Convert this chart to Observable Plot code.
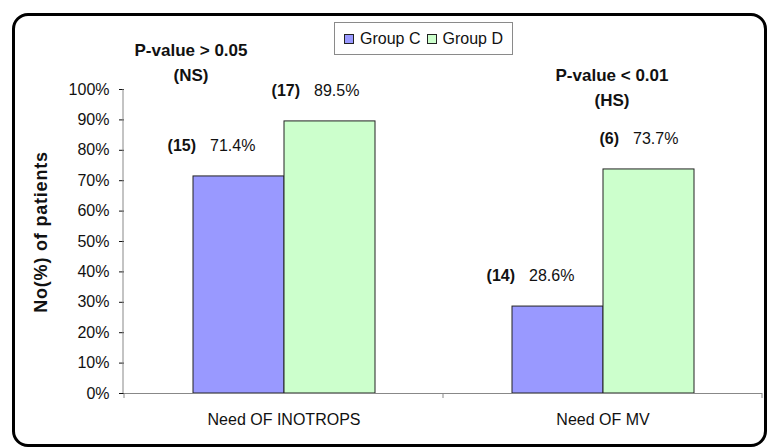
<!DOCTYPE html>
<html>
<head>
<meta charset="utf-8">
<script src="https://cdn.jsdelivr.net/npm/d3@7"></script>
<script src="https://cdn.jsdelivr.net/npm/@observablehq/plot@0.6"></script>
<style>
  html, body { margin: 0; padding: 0; background: #fff; }
  #wrap { position: relative; width: 767px; height: 448px; font-family: "Liberation Sans", Arial, sans-serif; }
  #border {
    position: absolute; left: 12px; top: 13px; width: 749px; height: 428px;
    border: 3px solid #000; border-radius: 16px; pointer-events: none;
  }
  #legend {
    position: absolute; left: 334px; top: 22px; width: 177px; height: 31px;
    border: 1px solid #8a8a8a; background: #fff;
    display: flex; align-items: center; justify-content: center; gap: 6px;
    font-size: 16px; color: #111;
  }
  #legend .item { display: flex; align-items: center; gap: 6px; }
  #legend .sw { width: 8px; height: 8px; border: 1px solid #222; }
  [aria-label="y-axis tick"] { stroke: #888; }
</style>
</head>
<body>
<div id="wrap">
  <div id="chart"></div>
  <div id="legend"></div>
  <div id="border"></div>
</div>
<script>
// Categories, groups and values
const categories = ["Need OF INOTROPS", "Need OF MV"];
const groups = ["Group C", "Group D"];
const groupC = [71.4, 28.6];
const groupD = [89.5, 73.7];
const countsC = [15, 14];
const countsD = [17, 6];
const pTexts = ["P-value > 0.05\n(NS)", "P-value < 0.01\n(HS)"];
const yTicks = [0, 10, 20, 30, 40, 50, 60, 70, 80, 90, 100];
const colors = ["#9999ff", "#ccffcc"];

const rows = [];
categories.forEach((c, i) => {
  rows.push({category: c, group: groups[0], value: groupC[i], count: countsC[i]});
  rows.push({category: c, group: groups[1], value: groupD[i], count: countsD[i]});
});
const pRows = categories.map((c, i) => ({category: c, text: pTexts[i]}));

const font = {fontFamily: "'Liberation Sans', Arial, sans-serif", fontSize: "16px", color: "#111", background: "transparent", overflow: "visible"};

// "(n)  xx.x%" label pair above the bars of one group
function valueLabels(group, dx) {
  const data = rows.filter(d => d.group === group);
  return [
    Plot.text(data, {fx: "category", x: "group", y: "value", text: d => `(${d.count})`,
      textAnchor: "end", dx: dx - 7, dy: -31, fontWeight: "bold", fontSize: 16, fill: "#111"}),
    Plot.text(data, {fx: "category", x: "group", y: "value", text: d => d.value.toFixed(1) + "%",
      textAnchor: "start", dx: dx + 7, dy: -31, fontSize: 16, fill: "#111"})
  ];
}

const plot = Plot.plot({
  width: 767,
  height: 448,
  marginLeft: 123,
  marginRight: 5,
  marginTop: 89,
  marginBottom: 55,
  style: font,
  fx: {domain: categories, paddingInner: 0, paddingOuter: 0, label: null},
  x: {domain: groups, paddingInner: 0, paddingOuter: 0.737, axis: null},
  y: {domain: [0, 100], label: null},
  color: {domain: groups, range: colors},
  marks: [
    Plot.axisY({ticks: yTicks, tickFormat: d => d + "%", tickSize: 5, tickPadding: 10, fontSize: 16, label: null}),
    Plot.axisFx({anchor: "bottom", tickSize: 0, tickPadding: 20, fontSize: 16, label: null}),
    Plot.barY(rows, {fx: "category", x: "group", y: "value", fill: "group", stroke: "#222", strokeWidth: 1}),
    Plot.ruleY([0], {stroke: "#888"}),
    valueLabels(groups[0], -36),
    valueLabels(groups[1], -23),
    // significance notes
    Plot.text(pRows.slice(0, 1), {fx: "category", text: "text", frameAnchor: "top", lineAnchor: "middle",
      dx: -93, dy: -29, lineHeight: 1.45, fontWeight: "bold", fontSize: 17, fill: "#111"}),
    Plot.text(pRows.slice(1, 2), {fx: "category", text: "text", frameAnchor: "top", lineAnchor: "middle",
      dx: 9, dy: -4, lineHeight: 1.5, fontWeight: "bold", fontSize: 17, fill: "#111"})
  ]
});

document.getElementById("chart").appendChild(plot);

// axis line on the left and boundary ticks between categories
const svg = d3.select(plot);
const fx = plot.scale("fx");
const y = plot.scale("y");
const x0 = fx.range[0];
svg.append("line")
  .attr("x1", x0).attr("x2", x0)
  .attr("y1", y.apply(0)).attr("y2", y.apply(100))
  .attr("stroke", "#888");
const bounds = categories.map(c => fx.apply(c)).concat([fx.apply(categories[categories.length - 1]) + fx.bandwidth]);
svg.selectAll("line.bound").data(bounds).join("line")
  .attr("class", "bound")
  .attr("x1", d => d).attr("x2", d => d)
  .attr("y1", y.apply(0)).attr("y2", y.apply(0) + 5)
  .attr("stroke", "#888");

// y-axis title
svg.append("text")
  .attr("transform", `translate(47, 232) rotate(-90)`)
  .attr("text-anchor", "middle")
  .attr("font-weight", "bold")
  .attr("font-size", 18)
  .attr("letter-spacing", 0.8)
  .attr("fill", "#111")
  .text("No(%) of patients");

// legend
const color = plot.scale("color");
const legend = d3.select("#legend");
color.domain.forEach(g => {
  const item = legend.append("div").attr("class", "item");
  item.append("div").attr("class", "sw").style("background", color.apply(g));
  item.append("span").text(g);
});
</script>
</body>
</html>
